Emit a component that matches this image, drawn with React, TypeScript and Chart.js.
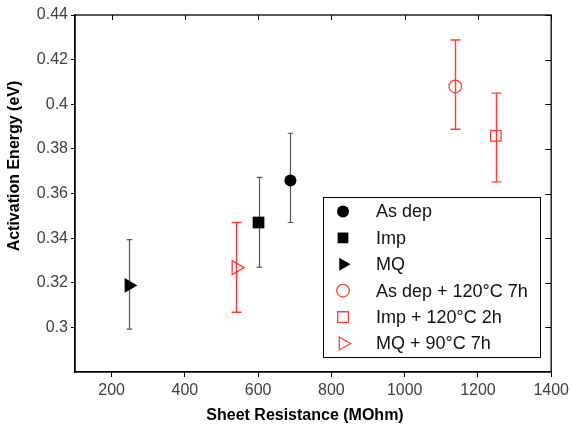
import React, { useEffect, useRef } from 'react';
import { Chart, registerables } from 'chart.js';

Chart.register(...registerables);

// ---- data ----
const seriesNames = ['As dep', 'Imp', 'MQ', 'As dep + 120°C 7h', 'Imp + 120°C 2h', 'MQ + 90°C 7h'];
const resistance = [688, 601, 247, 1138, 1249, 540];
const energy = [0.3658, 0.347, 0.3188, 0.408, 0.3858, 0.3268];
const errLow = [0.347, 0.327, 0.2992, 0.3888, 0.3652, 0.3068];
const errHigh = [0.387, 0.3672, 0.3393, 0.4288, 0.405, 0.347];
const xTicks = [200, 400, 600, 800, 1000, 1200, 1400];
const yTicks = [0.3, 0.32, 0.34, 0.36, 0.38, 0.4, 0.42, 0.44];

const FONT = '"Liberation Sans", Arial, Helvetica, sans-serif';
const RED = 'rgba(255,40,40,0.9)';

type Style = { shape: 'circle' | 'rect' | 'triangle'; filled: boolean; color: string; r: number };
const styles: Style[] = [
  { shape: 'circle', filled: true, color: '#000', r: 6 },
  { shape: 'rect', filled: true, color: '#000', r: 8.3 },
  { shape: 'triangle', filled: true, color: '#000', r: 8.5 },
  { shape: 'circle', filled: false, color: RED, r: 6.3 },
  { shape: 'rect', filled: false, color: RED, r: 7.4 },
  { shape: 'triangle', filled: false, color: RED, r: 8 },
];

function drawMarker(ctx: CanvasRenderingContext2D, s: Style, x: number, y: number) {
  ctx.save();
  ctx.beginPath();
  if (s.shape === 'circle') {
    ctx.arc(x, y, s.r, 0, Math.PI * 2);
  } else if (s.shape === 'rect') {
    const h = s.r * Math.SQRT1_2;
    ctx.rect(x - h, y - h, 2 * h, 2 * h);
  } else {
    for (let k = 0; k < 3; k++) {
      const a = (k * 2 * Math.PI) / 3;
      const px = x + Math.cos(a) * s.r;
      const py = y + Math.sin(a) * s.r;
      if (k === 0) ctx.moveTo(px, py);
      else ctx.lineTo(px, py);
    }
    ctx.closePath();
  }
  if (s.filled) {
    ctx.fillStyle = s.color;
    ctx.fill();
  } else {
    ctx.strokeStyle = s.color;
    ctx.lineWidth = 1.3;
    ctx.stroke();
  }
  ctx.restore();
}

const errorBarsPlugin = {
  id: 'errorBars',
  beforeDatasetsDraw(chart: any) {
    const { ctx, scales } = chart;
    const x = scales.x;
    const y = scales.y;
    resistance.forEach((rv, i) => {
      const px = Math.round(x.getPixelForValue(rv)) + 0.5;
      const yl = y.getPixelForValue(errLow[i]);
      const yh = y.getPixelForValue(errHigh[i]);
      const red = !styles[i].filled;
      const cap = red ? 5 : 2.8;
      ctx.save();
      ctx.strokeStyle = red ? RED : '#555';
      ctx.lineWidth = red ? 1.4 : 1.2;
      ctx.beginPath();
      ctx.moveTo(px, yl);
      ctx.lineTo(px, yh);
      ctx.moveTo(px - cap, yl);
      ctx.lineTo(px + cap, yl);
      ctx.moveTo(px - cap, yh);
      ctx.lineTo(px + cap, yh);
      ctx.stroke();
      ctx.restore();
    });
  },
  afterDatasetsDraw(chart: any) {
    const { ctx, scales } = chart;
    resistance.forEach((rv, i) => {
      drawMarker(ctx, styles[i], scales.x.getPixelForValue(rv), scales.y.getPixelForValue(energy[i]));
    });
  },
};

const framePlugin = {
  id: 'frame',
  afterDraw(chart: any) {
    const { ctx, chartArea, scales } = chart;
    const { left, right, top, bottom } = chartArea;
    ctx.save();
    ctx.strokeStyle = '#000';
    ctx.lineWidth = 1.3;
    ctx.strokeRect(left, top, right - left, bottom - top);
    ctx.lineWidth = 1;
    ctx.beginPath();
    xTicks.forEach((v) => {
      const px = Math.round(scales.x.getPixelForValue(v)) + 0.5;
      ctx.moveTo(px, top);
      ctx.lineTo(px, top + 5);
    });
    yTicks.forEach((v) => {
      const py = Math.round(scales.y.getPixelForValue(v)) + 0.5;
      ctx.moveTo(right, py);
      ctx.lineTo(right - 6, py);
    });
    ctx.stroke();

    // axis titles
    ctx.fillStyle = '#000';
    ctx.font = `bold 16px ${FONT}`;
    ctx.textAlign = 'center';
    ctx.textBaseline = 'alphabetic';
    ctx.fillText('Sheet Resistance (MOhm)', 305, 420);
    ctx.save();
    ctx.translate(19, 166);
    ctx.rotate(-Math.PI / 2);
    ctx.fillText('Activation Energy (eV)', 0, 0);
    ctx.restore();

    // legend
    const bx = 323, by = 197, bw = 217, bh = 160;
    ctx.fillStyle = '#fff';
    ctx.fillRect(bx, by, bw, bh);
    ctx.strokeStyle = '#000';
    ctx.lineWidth = 1;
    ctx.strokeRect(bx + 0.5, by + 0.5, bw, bh);
    ctx.font = `18px ${FONT}`;
    ctx.textAlign = 'left';
    ctx.textBaseline = 'middle';
    seriesNames.forEach((name, i) => {
      const ly = 211.5 + i * 26.4;
      const st = { ...styles[i] };
      if (st.shape === 'triangle') st.r = 7.5;
      if (st.shape === 'rect') st.r = 7.6;
      drawMarker(ctx, st, 343, ly);
      ctx.fillStyle = '#111';
      ctx.fillText(name, 376, ly + 1);
    });
    ctx.restore();
  },
};

export default function App() {
  const ref = useRef<HTMLCanvasElement | null>(null);
  useEffect(() => {
    if (!ref.current) return;
    const chart = new Chart(ref.current, {
      type: 'scatter',
      data: {
        datasets: seriesNames.map((name, i) => ({
          label: name,
          data: [{ x: resistance[i], y: energy[i] }],
          pointRadius: 0,
          pointHoverRadius: 0,
          borderColor: styles[i].color,
          backgroundColor: styles[i].color,
        })),
      },
      options: {
        responsive: false,
        animation: false,
        layout: { padding: { top: 15, right: 20, left: 0, bottom: 0 } },
        plugins: { legend: { display: false }, tooltip: { enabled: false } },
        scales: {
          x: {
            type: 'linear',
            min: 100,
            max: 1400,
            afterBuildTicks: (s: any) => {
              s.ticks = xTicks.map((v) => ({ value: v }));
            },
            afterFit: (s: any) => {
              s.height = 56;
            },
            grid: { drawOnChartArea: false, drawTicks: true, tickLength: 5, color: '#000' },
            border: { display: true, color: '#000', width: 1.3 },
            ticks: {
              padding: 4,
              color: '#404040',
              font: { family: FONT, size: 16 },
              maxRotation: 0,
              callback: (v: any) => String(v),
            },
          },
          y: {
            type: 'linear',
            min: 0.28,
            max: 0.44,
            afterBuildTicks: (s: any) => {
              s.ticks = yTicks.map((v) => ({ value: v }));
            },
            afterFit: (s: any) => {
              s.width = 75;
            },
            grid: { drawOnChartArea: false, drawTicks: true, tickLength: 4, color: '#000' },
            border: { display: true, color: '#000', width: 1.3 },
            ticks: {
              padding: 3,
              color: '#404040',
              font: { family: FONT, size: 16 },
              callback: (v: any) => String(+Number(v).toFixed(2)),
            },
          },
        },
      },
      plugins: [errorBarsPlugin, framePlugin],
    });
    return () => chart.destroy();
  }, []);
  return (
    <div style={{ position: 'absolute', left: 0, top: 0, width: 573, height: 428, background: '#fff' }}>
      <canvas ref={ref} width={573} height={428} style={{ width: 573, height: 428, display: 'block' }} />
    </div>
  );
}
